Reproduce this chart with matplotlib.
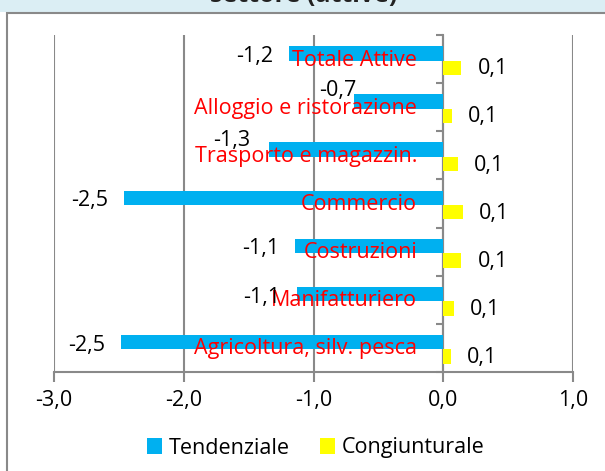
import matplotlib.pyplot as plt
from matplotlib.patches import Rectangle

# data
settori = ['Totale Attive', 'Alloggio e ristorazione', 'Trasporto e magazzin.',
           'Commercio', 'Costruzioni', 'Manifatturiero', 'Agricoltura, silv. pesca']
tendenziale = [-1.19, -0.69, -1.34, -2.46, -1.14, -1.13, -2.48]
congiunturale = [0.14, 0.07, 0.11, 0.15, 0.14, 0.08, 0.06]
serie = ['Tendenziale', 'Congiunturale']
xticks = [-3, -2, -1, 0, 1]

BLUE = '#00B0F0'
YELLOW = '#FFFF00'
GRID = '#898989'

plt.rcParams['font.family'] = ['Open Sans', 'DejaVu Sans']

def virgola(v):
    return f'{v:.1f}'.replace('.', ',')

fig = plt.figure(figsize=(6.05, 4.71), dpi=100)

# light blue strip at the top and the chart frame
fig.patches.append(Rectangle((0, 1 - 12 / 471), 1, 12 / 471, transform=fig.transFigure,
                             facecolor='#DBEEF4', edgecolor='none', zorder=0))
fig.patches.append(Rectangle((7 / 605, -0.1), 1.2, 1.1 - 13 / 471, transform=fig.transFigure,
                             facecolor='white', edgecolor=GRID, lw=1.5, zorder=0))
# title is cut off by the top edge, as in the original screenshot
fig.text(0.502, 1 - 2.5 / 471, 'settore (attive)', ha='center', va='baseline',
         fontsize=18, fontweight='bold', color='#222222')

ax = fig.add_axes([54 / 605, 1 - 372 / 471, 519 / 605, 337 / 471])
ax.set_zorder(2)
ax.patch.set_alpha(0)

pos = list(range(len(settori)))
h = 0.3
b1 = ax.barh([p - 0.12 for p in pos], tendenziale, height=h, color=BLUE, label=serie[0], zorder=3)
b2 = ax.barh([p + 0.18 for p in pos], congiunturale, height=h, color=YELLOW, label=serie[1], zorder=3)

ax.set_xlim(-3, 1)
ax.set_ylim(len(settori) - 0.5, -0.5)
ax.set_xticks(xticks)
ax.set_xticklabels([virgola(x) for x in xticks], fontsize=15.5)
ax.tick_params(axis='x', length=7, width=1.5, color=GRID, pad=6)
ax.set_yticks([p - 0.5 for p in range(len(settori) + 1)])
ax.set_yticklabels([])
ax.tick_params(axis='y', length=5, width=1.5, color=GRID, direction='out')
ax.grid(axis='x', color=GRID, lw=1.5, zorder=1)
ax.set_axisbelow(True)
for s in ['top', 'right']:
    ax.spines[s].set_visible(False)
ax.spines['left'].set_position(('data', 0))
ax.spines['left'].set_color(GRID)
ax.spines['left'].set_linewidth(1.5)
ax.spines['bottom'].set_color(GRID)
ax.spines['bottom'].set_linewidth(1.5)

# red category names next to the axis
for p, nome in zip(pos, settori):
    ax.annotate(nome, (0, p), xytext=(-26, -1), textcoords='offset pixels',
                ha='right', va='center', color='red', fontsize=15.5, zorder=5)

# data labels (a couple were moved by hand in the original)
spost = {1: (3, 11), 2: (-19, 9)}
for p, r, v in zip(pos, b1, tendenziale):
    dx, dy = spost.get(p, (-16, -3))
    ax.annotate(virgola(v), (v, r.get_y() + h / 2), xytext=(dx, dy), textcoords='offset pixels',
                ha='right', va='center', fontsize=15.5, zorder=5)
for p, r, v in zip(pos, b2, congiunturale):
    ax.annotate(virgola(v), (v, r.get_y() + h / 2), xytext=(16, -1), textcoords='offset pixels',
                ha='left', va='center', fontsize=15.5, zorder=5)

fig.legend(handles=[b1, b2], labels=serie, loc='center', bbox_to_anchor=(0.522, 1 - 448 / 471),
           ncol=2, frameon=False, fontsize=15.5, handlelength=0.7, handleheight=0.7,
           handletextpad=0.3, columnspacing=1.4)

fig.savefig('out.png', dpi=100)
